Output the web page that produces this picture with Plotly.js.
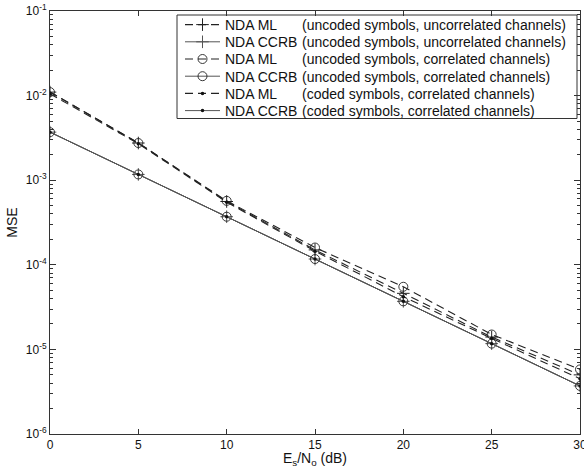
<!DOCTYPE html>
<html>
<head>
<meta charset="utf-8">
<script src="https://cdn.plot.ly/plotly-3.0.1.min.js"></script>
<style>
  html, body { margin: 0; padding: 0; background: #fff; }
  #chart { width: 584px; height: 468px; }
</style>
</head>
<body>
<div id="chart"></div>
<script>
// Es/No in dB
const snr = [0, 5, 10, 15, 20, 25, 30];
const xTickVals = [0, 5, 10, 15, 20, 25, 30];

// NDA ML estimator MSE
const mlUncodedUncorr = [1.1e-2, 2.75e-3, 5.6e-4, 1.5e-4, 4.6e-5, 1.4e-5, 5.0e-6];
const mlUncodedCorr   = [1.1e-2, 2.75e-3, 5.7e-4, 1.6e-4, 5.5e-5, 1.5e-5, 5.8e-6];
const mlCodedCorr     = [1.05e-2, 2.7e-3, 5.5e-4, 1.45e-4, 4.2e-5, 1.35e-5, 4.5e-6];

// NDA conditional CRB
const ccrbUncodedUncorr = [3.7e-3, 1.17e-3, 3.7e-4, 1.17e-4, 3.7e-5, 1.17e-5, 3.7e-6];
const ccrbUncodedCorr   = [3.7e-3, 1.17e-3, 3.7e-4, 1.17e-4, 3.7e-5, 1.17e-5, 3.7e-6];
const ccrbCodedCorr     = [3.7e-3, 1.17e-3, 3.7e-4, 1.17e-4, 3.7e-5, 1.17e-5, 3.7e-6];

const names = ['NDA ML', 'NDA CCRB', 'NDA ML', 'NDA CCRB', 'NDA ML', 'NDA CCRB'];
const notes = [
  '(uncoded symbols, uncorrelated channels)',
  '(uncoded symbols, uncorrelated channels)',
  '(uncoded symbols, correlated channels)',
  '(uncoded symbols, correlated channels)',
  '(coded symbols, correlated channels)',
  '(coded symbols, correlated channels)'
];

// y-axis decade ticks
const yTickVals = [1e-6, 1e-5, 1e-4, 1e-3, 1e-2, 1e-1];
const yTickText = ['10<sup>-6</sup>', '10<sup>-5</sup>', '10<sup>-4</sup>',
                   '10<sup>-3</sup>', '10<sup>-2</sup>', '10<sup>-1</sup>'];

const FONT = 'Liberation Sans, Arial, sans-serif';
const dashML = { color: '#222', width: 1.1, dash: '8px,5px' };
const solidCRB = { color: '#555', width: 1 };

// one single-entry legend per trace so the rows can sit close together
const legendIds = ['legend', 'legend2', 'legend3', 'legend4', 'legend5', 'legend6'];

function trace(y, i, line, marker) {
  return { x: snr, y: y, type: 'scatter', mode: 'lines+markers',
           name: names[i], legend: legendIds[i],
           line: line, marker: marker };
}

const plusMk = { symbol: 'cross-thin-open', size: 9, line: { color: '#222', width: 1 } };
const circMk = { symbol: 'circle-open', size: 9, color: '#222', line: { color: '#222', width: 0.9 } };
const dotMk  = { symbol: 'circle', size: 3.5, color: '#111' };

const data = [
  trace(mlUncodedUncorr, 0, dashML, plusMk),
  trace(ccrbUncodedUncorr, 1, solidCRB, plusMk),
  trace(mlUncodedCorr, 2, dashML, circMk),
  trace(ccrbUncodedCorr, 3, solidCRB, circMk),
  trace(mlCodedCorr, 4, dashML, dotMk),
  trace(ccrbCodedCorr, 5, solidCRB, dotMk)
];

// minor ticks of the log axis
const minorY = [];
for (let e = -6; e < -1; e++) {
  for (let k = 2; k <= 9; k++) minorY.push(k * Math.pow(10, e));
}

const M = { l: 50, r: 4, t: 11, b: 34 };
const plotH = 468 - M.t - M.b;
const plotW = 584 - M.l - M.r;
const paperX = px => (px - M.l) / plotW;
const paperY = py => (M.t + plotH - py) / plotH;

// legend row centres, in pixels from the top
const rowPx = [25, 42.2, 59.4, 76.6, 93.8, 111];

const layout = {
  width: 584, height: 468,
  margin: M,
  paper_bgcolor: '#fff', plot_bgcolor: '#fff',
  font: { family: FONT, size: 12, color: '#111' },
  showlegend: true,
  xaxis: {
    range: [0, 30], tickmode: 'array', tickvals: xTickVals,
    ticks: 'inside', ticklen: 5, tickcolor: '#333',
    showline: true, linecolor: '#333', linewidth: 1, mirror: 'ticks',
    showgrid: false, zeroline: false, ticklabeloverflow: 'allow',
    tickfont: { size: 12 },
    title: { text: 'E<sub>s</sub>/N<sub>o</sub> (dB)', font: { size: 14 }, standoff: 2 }
  },
  yaxis: {
    type: 'log', range: [-6, -1],
    tickmode: 'array', tickvals: yTickVals, ticktext: yTickText,
    ticks: 'inside', ticklen: 6, tickcolor: '#333',
    minor: { tickmode: 'array', tickvals: minorY, ticks: 'inside', ticklen: 3, tickcolor: '#333', showgrid: false },
    showline: true, linecolor: '#333', linewidth: 1, mirror: 'ticks',
    showgrid: false, zeroline: false,
    tickfont: { size: 12 },
    title: { text: 'MSE', font: { size: 14 }, standoff: 4 }
  },
  shapes: [{
    type: 'rect', xref: 'paper', yref: 'paper',
    x0: paperX(177), x1: paperX(577), y0: paperY(118.5), y1: paperY(15),
    line: { color: '#333', width: 1 }, fillcolor: 'rgba(0,0,0,0)'
  }],
  annotations: notes.map((t, i) => ({
    xref: 'paper', yref: 'paper', x: paperX(300), y: paperY(rowPx[i]),
    xanchor: 'left', yanchor: 'middle', showarrow: false, text: t,
    font: { family: FONT, size: 14, color: '#111' }
  }))
};

legendIds.forEach((id, i) => {
  layout[id] = {
    x: paperX(180), y: paperY(rowPx[i]), xanchor: 'left', yanchor: 'middle',
    bgcolor: 'rgba(0,0,0,0)', borderwidth: 0, itemwidth: 35,
    font: { family: FONT, size: 14, color: '#111' }
  };
});

Plotly.newPlot('chart', data, layout, { displayModeBar: false, staticPlot: true });
</script>
</body>
</html>
